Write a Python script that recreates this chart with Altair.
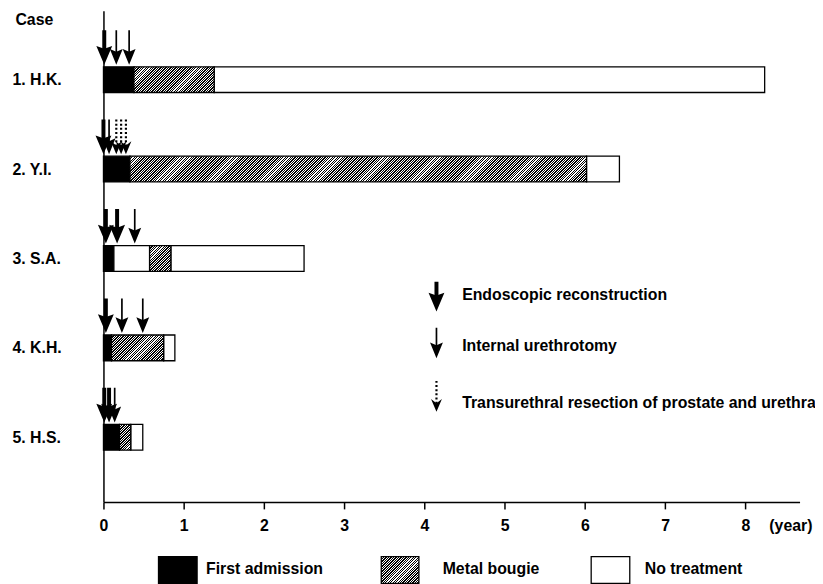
import altair as alt
import pandas as pd

# ---------------- data ----------------
cases = ["1. H.K.", "2. Y.I.", "3. S.A.", "4. K.H.", "5. H.S."]

FA, MB, NT = "First admission", "Metal bougie", "No treatment"
seg_case = [1, 1, 1, 2, 2, 2, 3, 3, 3, 3, 4, 4, 4, 5, 5, 5]
seg_start = [0, 0.38, 1.38, 0, 0.33, 6.02, 0, 0.13, 0.575, 0.84, 0, 0.10, 0.75, 0, 0.20, 0.34]
seg_end = [0.38, 1.38, 8.24, 0.33, 6.02, 6.43, 0.13, 0.575, 0.84, 2.50, 0.10, 0.75, 0.89, 0.20, 0.34, 0.49]
seg_kind = [FA, MB, NT, FA, MB, NT, FA, NT, MB, NT, FA, MB, NT, FA, MB, NT]

ER, IU, TUR = "Endoscopic reconstruction", "Internal urethrotomy", "Transurethral resection of prostate and urethra"
arr_case = [1, 1, 1, 2, 2, 2, 2, 2, 3, 3, 3, 4, 4, 4, 5, 5, 5]
arr_year = [0.01, 0.16, 0.32, 0.0, 0.07, 0.16, 0.22, 0.28, 0.03, 0.17, 0.39, 0.03, 0.23, 0.49, 0.01, 0.07, 0.14]
arr_kind = [ER, IU, IU, ER, IU, TUR, TUR, TUR, ER, ER, IU, ER, IU, IU, ER, ER, IU]

# arrow key (positions in year / case-row units)
key_kind = [ER, IU, TUR]
key_arrow_year = [4.15, 4.15, 4.15]
key_arrow_top = [3.261, 3.774, 4.369]
key_arrow_tip = [3.594, 4.117, 4.715]
key_label_year = [4.47, 4.47, 4.47]
key_label_row = [3.409, 3.985, 4.616]

# fill key below the axis (positions in year / case-row units)
box_kind = [FA, MB, NT]
box_x0 = [0.686, 3.462, 6.078]
box_x1 = [1.167, 3.931, 6.559]
box_row0 = [6.335, 6.335, 6.335]
box_row1 = [6.635, 6.635, 6.635]
box_label_x = [1.278, 4.227, 6.745]
box_label_row = [6.475, 6.475, 6.475]

year_ticks = [0, 1, 2, 3, 4, 5, 6, 7, 8]

# ---------------- layout / style constants ----------------
W_PLOT, H_PLOT = 703, 496
PX_PER_YEAR = 81.04
XMAX = W_PLOT / PX_PER_YEAR
ROW_PX = 90.3
FIRST_ROW_PX = 69.5
Y0 = 1 - FIRST_ROW_PX / ROW_PX
Y1 = 1 + (H_PLOT - FIRST_ROW_PX) / ROW_PX
BAR_H = 26
FONT = "Liberation Sans"
FS = 16

ARROW_STYLE = {
    ER: dict(width=4.0, dash=[1, 0], head_h=19, head_w=16, notch=-0.7),
    IU: dict(width=1.7, dash=[1, 0], head_h=16, head_w=13, notch=-0.65),
    TUR: dict(width=2.2, dash=[2, 2.2], head_h=13, head_w=11, notch=-0.35),
}


def hatch(w, h, period=2.5, duty=0.55):
    span = w + h
    k = span / (w * w + h * h)
    stops = []
    i = 0
    while i * period < span:
        a = i * period / span
        b = min((i + duty) * period / span, 1.0)
        c = min((i + 1) * period / span, 1.0)
        stops += [
            {"offset": round(a, 5), "color": "black"},
            {"offset": round(b, 5), "color": "black"},
            {"offset": round(b, 5), "color": "white"},
            {"offset": round(c, 5), "color": "white"},
        ]
        i += 1
    return {"gradient": "linear", "x1": 0, "y1": 0, "x2": k * w, "y2": k * h, "stops": stops}


x_scale = alt.Scale(domain=[0, XMAX], nice=False, zero=False, padding=0)
y_scale = alt.Scale(domain=[Y0, Y1], nice=False, zero=False, reverse=True, padding=0)

label_expr = "[" + ",".join("'" + c + "'" for c in cases) + "][datum.value - 1]"

X_AXIS = alt.Axis(
    values=year_ticks, format="d", grid=False, labelFlush=False,
    labelFont=FONT, labelFontSize=FS, labelFontWeight="bold", labelColor="black",
    labelBaseline="alphabetic", labelPadding=22,
    tickSize=7, tickWidth=1.5, tickColor="black",
    domainColor="black", domainWidth=1.5,
    title="(year)", titleX=672, titleY=29, titleAlign="left", titleBaseline="alphabetic",
    titleFont=FONT, titleFontSize=FS, titleFontWeight="bold", titleColor="black",
)
Y_AXIS = alt.Axis(
    values=[1, 2, 3, 4, 5], labelExpr=label_expr, grid=False, ticks=False, tickSize=0,
    labelFont=FONT, labelFontSize=FS, labelFontWeight="bold", labelColor="black",
    labelAlign="left", labelBaseline="middle", labelPadding=92.4,
    domainColor="black", domainWidth=1.5,
    title="Case", titleAngle=0, titleX=-89.4, titleY=9, titleAlign="left", titleBaseline="middle",
    titleFont=FONT, titleFontSize=FS, titleFontWeight="bold", titleColor="black",
)


def X(field):
    return alt.X(field, type="quantitative", scale=x_scale, axis=X_AXIS)


def Y(field):
    return alt.Y(field, type="quantitative", scale=y_scale, axis=Y_AXIS)


# ---------------- tables ----------------
segs = pd.DataFrame({"row": seg_case, "start": seg_start, "end": seg_end, "kind": seg_kind})

arrows = pd.DataFrame({"row": arr_case, "x": arr_year, "kind": arr_kind})
arrows["tip"] = arrows["row"] - (BAR_H / 2 + 2) / ROW_PX
arrows["top"] = arrows["tip"] - 35 / ROW_PX
keyarr = pd.DataFrame({"x": key_arrow_year, "top": key_arrow_top, "tip": key_arrow_tip, "kind": key_kind})
all_arrows = pd.concat([arrows[["x", "top", "tip", "kind"]], keyarr], ignore_index=True)
all_arrows["head"] = [
    t - ARROW_STYLE[k]["head_h"] / 2 / ROW_PX for t, k in zip(all_arrows["tip"], all_arrows["kind"])
]

keylab = pd.DataFrame({"x": key_label_year, "row": key_label_row, "text": key_kind})
boxes = pd.DataFrame({"x0": box_x0, "x1": box_x1, "r0": box_row0, "r1": box_row1, "kind": box_kind})
boxlab = pd.DataFrame({"x": box_label_x, "row": box_label_row, "text": box_kind})

layers = []

# plain (black / white) segments
plain = segs[segs["kind"] != MB]
layers.append(
    alt.Chart(plain).mark_bar(height=BAR_H, stroke="black", strokeWidth=1.3).encode(
        x=X("start"), x2="end", y=Y("row"),
        fill=alt.Fill("kind:N", scale=alt.Scale(domain=[FA, NT], range=["black", "white"]), legend=None),
    )
)

# hatched (metal bougie) segments
for _, r in segs[segs["kind"] == MB].iterrows():
    w = (r["end"] - r["start"]) * PX_PER_YEAR
    layers.append(
        alt.Chart(pd.DataFrame([r])).mark_bar(
            height=BAR_H, fill=hatch(w, BAR_H), stroke="black", strokeWidth=1.3
        ).encode(x=X("start"), x2="end", y=Y("row"))
    )

# arrows
for kind, st in ARROW_STYLE.items():
    sub = all_arrows[all_arrows["kind"] == kind]
    layers.append(
        alt.Chart(sub).mark_rule(color="black", strokeWidth=st["width"], strokeDash=st["dash"], strokeCap="butt").encode(
            x=X("x"), y=Y("top"), y2="head"
        )
    )
    hw = st["head_w"] / st["head_h"]
    path = f"M0,1L{-hw:.3f},-1L0,{st['notch']}L{hw:.3f},-1Z"
    layers.append(
        alt.Chart(sub).mark_point(
            shape=path, filled=True, color="black", fill="black", opacity=1, strokeWidth=0,
            size=st["head_h"] ** 2,
        ).encode(x=X("x"), y=Y("head"))
    )

# arrow key labels
layers.append(
    alt.Chart(keylab).mark_text(
        align="left", baseline="middle", font=FONT, fontSize=FS, fontWeight="bold", color="black"
    ).encode(x=X("x"), y=Y("row"), text="text:N")
)

# fill key boxes
plain_boxes = boxes[boxes["kind"] != MB]
layers.append(
    alt.Chart(plain_boxes).mark_rect(stroke="black", strokeWidth=1.3).encode(
        x=X("x0"), x2="x1", y=Y("r0"), y2="r1",
        fill=alt.Fill("kind:N", scale=alt.Scale(domain=[FA, NT], range=["black", "white"]), legend=None),
    )
)
for _, r in boxes[boxes["kind"] == MB].iterrows():
    w = (r["x1"] - r["x0"]) * PX_PER_YEAR
    h = (r["r1"] - r["r0"]) * ROW_PX
    layers.append(
        alt.Chart(pd.DataFrame([r])).mark_rect(fill=hatch(w, h), stroke="black", strokeWidth=1.3).encode(
            x=X("x0"), x2="x1", y=Y("r0"), y2="r1"
        )
    )
layers.append(
    alt.Chart(boxlab).mark_text(
        align="left", baseline="middle", font=FONT, fontSize=FS, fontWeight="bold", color="black"
    ).encode(x=X("x"), y=Y("row"), text="text:N")
)

chart = alt.layer(*layers).properties(
    width=W_PLOT, height=H_PLOT,
    padding={"left": 96.4, "top": 0, "right": 15.6, "bottom": 80},
    autosize=alt.AutoSizeParams(type="none"),
    background="white",
).configure_view(stroke=None)

chart.save("out.html", embed_options={"renderer": "svg", "actions": False})
